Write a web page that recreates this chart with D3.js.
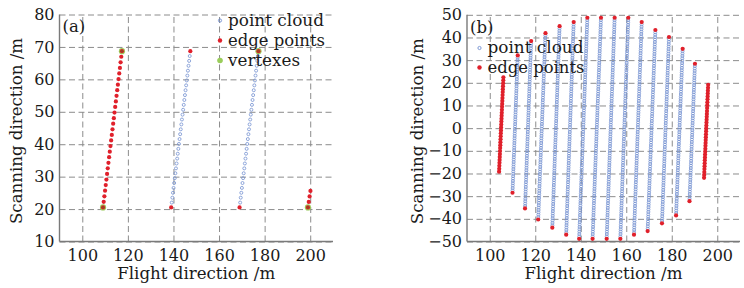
<!DOCTYPE html>
<html><head><meta charset="utf-8">
<script src="https://cdn.jsdelivr.net/npm/d3@7"></script>
<style>
body{margin:0;background:#fff;}
svg text{font-family:"DejaVu Serif","Liberation Serif","Times New Roman",serif !important;fill:#1a1a1a;}
</style></head>
<body><svg id="c" width="744" height="288"></svg>
<script>
// ---------- data ----------
// Panel (a): scan lines (bottom end -> top end), metres
const aXTicks = [100,120,140,160,180,200];
const aYTicks = [10,20,30,40,50,60,70,80];
const aBotX = [109.1, 139.0, 169.0, 199.0];
const aBotY = [20.5, 20.5, 20.5, 20.5];
const aTopX = [117.4, 147.4, 177.3, 200.1];
const aTopY = [68.7, 68.7, 68.7, 25.6];
const aEdgeOnly = [true, false, false, true];
const aStep = [1.75, 1.5, 1.5, 1.7];
const aVertX = [109.1, 117.4, 177.3, 199.0];
const aVertY = [20.5, 68.7, 68.7, 20.5];

// Panel (b): scan lines
const bXTicks = [100,120,140,160,180,200];
const bYTicks = [-50,-40,-30,-20,-10,0,10,20,30,40,50];
const bBotX = [104.1,110.0,115.5,121.3,127.5,133.6,139.3,145.2,151.4,157.4,163.4,169.4,175.7,181.9,187.8,194.2];
const bBotY = [-19.2,-28.5,-35.4,-40.3,-43.9,-47.0,-48.8,-48.8,-48.8,-48.8,-47.0,-45.4,-42.0,-38.5,-32.2,-21.9];
const bTopX = [106.0,112.3,118.2,124.5,130.7,136.9,142.9,148.9,154.9,160.9,166.8,172.8,178.8,184.8,190.2,196.0];
const bTopY = [22.4,32.1,38.4,41.9,45.0,46.8,48.7,48.7,48.7,48.7,46.8,43.3,40.2,35.0,28.4,19.1];
const bEdgeOnly = [true,false,false,false,false,false,false,false,false,false,false,false,false,false,false,true];
const bStep = 1.05;
const bEdgeStep = 1.3;

// ---------- drawing ----------
const svg = d3.select("#c");
const RED = "#e0202b", BLUE = "#7390d0", GREEN = "#9acd5a", GRID = "#8c8c8c", AXIS = "#7a7a7a";
const FONT = "'DejaVu Serif','Liberation Serif',serif";

function samples(x0,y0,x1,y1,step){
  const n = Math.max(1, Math.round((y1-y0)/step));
  const pts = [];
  for(let i=0;i<=n;i++){ const t=i/n; pts.push([x0+(x1-x0)*t, y0+(y1-y0)*t, i===0||i===n]); }
  return pts;
}

function panel(opt){
  const g = svg.append("g");
  const x = d3.scaleLinear().domain([90,210]).range([opt.left, opt.right]);
  const y = d3.scaleLinear().domain(opt.yDom).range([opt.bottom, opt.top]);
  const xa = g.append("g").attr("transform",`translate(0,${opt.bottom})`)
    .call(d3.axisBottom(x).tickValues(opt.xTicks).tickSize(-(opt.bottom-opt.top)).tickPadding(8).tickFormat(d3.format("d")));
  const ya = g.append("g").attr("transform",`translate(${opt.left},0)`)
    .call(d3.axisLeft(y).tickValues(opt.yTicks).tickSize(-(opt.right-opt.left)).tickPadding(5).tickFormat(d3.format("d")));
  [xa,ya].forEach(a=>{
    a.attr("font-family",FONT);
    a.select(".domain").remove();
    a.selectAll(".tick line").attr("stroke",GRID).attr("stroke-width",1).attr("stroke-dasharray","6,3.5");
    a.selectAll(".tick text").attr("font-size",16).attr("fill","#1a1a1a");
  });
  g.append("line").attr("x1",opt.left).attr("x2",opt.right).attr("y1",opt.bottom).attr("y2",opt.bottom).attr("stroke",AXIS).attr("stroke-width",1.4);
  g.append("line").attr("x1",opt.left).attr("x2",opt.left).attr("y1",opt.top).attr("y2",opt.bottom).attr("stroke",AXIS).attr("stroke-width",1.4);

  const blue=[], red=[];
  opt.botX.forEach((bx,i)=>{
    const st = opt.edgeOnly[i] ? opt.edgeStep(i) : opt.step(i);
    samples(bx,opt.botY[i],opt.topX[i],opt.topY[i],st).forEach(p=>{
      if(opt.edgeOnly[i] || p[2]) red.push(p); else blue.push(p);
    });
  });
  if(opt.vx){
    g.selectAll(null).data(opt.vx.map((v,i)=>[v,opt.vy[i]])).join("circle")
      .attr("cx",d=>x(d[0])).attr("cy",d=>y(d[1])).attr("r",3.1).attr("fill",GREEN);
  }
  g.selectAll(null).data(blue).join("circle")
    .attr("cx",d=>x(d[0])).attr("cy",d=>y(d[1])).attr("r",1.5)
    .attr("fill","none").attr("stroke",BLUE).attr("stroke-width",0.8);
  g.selectAll(null).data(red).join("circle")
    .attr("cx",d=>x(d[0])).attr("cy",d=>y(d[1])).attr("r",2.1).attr("fill",RED);
  if(opt.vx){
    g.selectAll(null).data(opt.vx.map((v,i)=>[v,opt.vy[i]])).join("circle")
      .attr("cx",d=>x(d[0])).attr("cy",d=>y(d[1])).attr("r",1.4).attr("fill","#6b5a1e").attr("opacity",0.6);
  }

  g.append("text").attr("x",(opt.left+opt.right)/2).attr("y",279).attr("text-anchor","middle")
    .attr("font-family",FONT).attr("font-size",17).attr("textLength",158).attr("lengthAdjust","spacingAndGlyphs").text("Flight direction /m");
  g.append("text").attr("transform",`translate(${opt.ylx},${(opt.top+opt.bottom)/2+3}) rotate(-90)`)
    .attr("text-anchor","middle").attr("font-family",FONT).attr("font-size",17)
    .attr("textLength",186).attr("lengthAdjust","spacingAndGlyphs").text("Scanning direction /m");
  g.append("text").attr("x",opt.left+3).attr("y",opt.labY).attr("font-family",FONT).attr("font-size",16.5).text(opt.label);
  opt.legend.forEach((L,i)=>{
    const cy = opt.legY + i*opt.legDy;
    if(L.type==="blue") g.append("circle").attr("cx",opt.legX).attr("cy",cy).attr("r",1.6).attr("fill","none").attr("stroke",BLUE).attr("stroke-width",0.9);
    if(L.type==="red") g.append("circle").attr("cx",opt.legX).attr("cy",cy).attr("r",2.2).attr("fill",RED);
    if(L.type==="green") g.append("circle").attr("cx",opt.legX).attr("cy",cy).attr("r",2.8).attr("fill",GREEN);
    g.append("text").attr("x",opt.legX+8).attr("y",cy+5).attr("font-family",FONT).attr("font-size",16.5)
      .attr("textLength",L.len).attr("lengthAdjust","spacingAndGlyphs").text(L.text);
  });
}

panel({left:59.5,right:333,top:14.5,bottom:241.5,yDom:[10,80],xTicks:aXTicks,yTicks:aYTicks,
  botX:aBotX,botY:aBotY,topX:aTopX,topY:aTopY,edgeOnly:aEdgeOnly,
  step:i=>aStep[i],edgeStep:i=>aStep[i],vx:aVertX,vy:aVertY,
  ylx:22,label:"(a)",labY:32,legX:220,legY:20.5,legDy:20,
  legend:[{type:"blue",text:"point cloud",len:96},{type:"red",text:"edge points",len:97},{type:"green",text:"vertexes",len:72}]});

panel({left:467,right:740,top:14.8,bottom:241.5,yDom:[-50,50],xTicks:bXTicks,yTicks:bYTicks,
  botX:bBotX,botY:bBotY,topX:bTopX,topY:bTopY,edgeOnly:bEdgeOnly,
  step:()=>bStep,edgeStep:()=>bEdgeStep,
  ylx:423,label:"(b)",labY:33,legX:479.5,legY:48,legDy:19.5,
  legend:[{type:"blue",text:"point cloud",len:96},{type:"red",text:"edge points",len:97}]});
</script></body></html>
